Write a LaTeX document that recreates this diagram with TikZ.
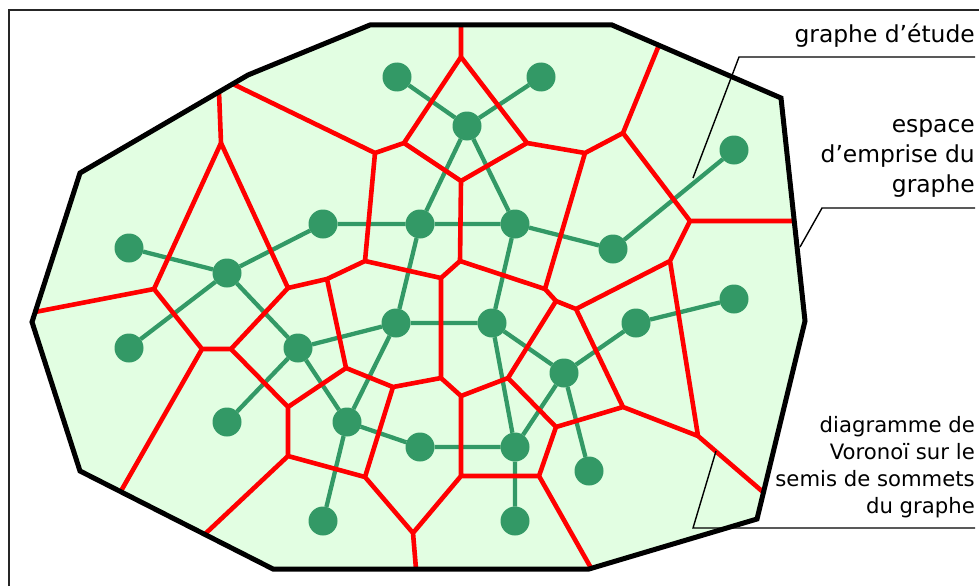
\documentclass[tikz,border=0pt]{standalone}
\usepackage{fontspec}
\setmainfont{DejaVu Sans}
\definecolor{hullfill}{RGB}{226,254,226}
\definecolor{vgreen}{RGB}{51,153,102}
\definecolor{vred}{RGB}{255,0,0}
\tikzset{
  gnode/.style={circle,fill=vgreen,minimum size=29pt,inner sep=0pt,outer sep=0pt},
  gedge/.style={draw=vgreen,line width=4.3pt},
  redge/.style={draw=vred,line width=4.6pt,line join=miter,line cap=butt},
  hullline/.style={draw=black,line width=5pt,line join=miter},
  callout/.style={draw=black,line width=1.4pt},
  framel/.style={draw=black!85,line width=2.2pt},
  bigtxt/.style={inner sep=0pt,align=right,font=\fontsize{23.4}{30}\selectfont},
  smalltxt/.style={inner sep=0pt,align=right,font=\fontsize{21.2}{26.7}\selectfont},
}
\begin{document}
\begin{tikzpicture}[x=1pt,y=-1pt]
\useasboundingbox (0,0) rectangle (979,586);
% frame
\draw[framel] (9,586) -- (9,10) -- (979,10);
% hull
\coordinate (H1) at (370,25);
\coordinate (H2) at (612,25);
\coordinate (H3) at (781,98);
\coordinate (H4) at (805,321);
\coordinate (H5) at (757,519);
\coordinate (H6) at (589,569);
\coordinate (H7) at (273,569);
\coordinate (H8) at (80,471);
\coordinate (H9) at (32,322);
\coordinate (H10) at (80,173);
\coordinate (H11) at (248,75);
\fill[hullfill] (H1)--(H2)--(H3)--(H4)--(H5)--(H6)--(H7)--(H8)--(H9)--(H10)--(H11)--cycle;
% green graph nodes
\node[gnode] (a1) at (397,77) {};
\node[gnode] (a2) at (541,77) {};
\node[gnode] (a3) at (467,126) {};
\node[gnode] (a4) at (734,150) {};
\node[gnode] (b1) at (323,224) {};
\node[gnode] (b2) at (420,224) {};
\node[gnode] (b3) at (515,224) {};
\node[gnode] (b4) at (613,249) {};
\node[gnode] (c1) at (129,248) {};
\node[gnode] (c2) at (227,273) {};
\node[gnode] (c3) at (129,348) {};
\node[gnode] (d1) at (396,323) {};
\node[gnode] (d2) at (492,323) {};
\node[gnode] (d3) at (636,323) {};
\node[gnode] (d4) at (734,299) {};
\node[gnode] (e1) at (298,348) {};
\node[gnode] (e2) at (564,373) {};
\node[gnode] (f1) at (227,422) {};
\node[gnode] (f2) at (347,422) {};
\node[gnode] (f3) at (420,447) {};
\node[gnode] (f4) at (515,447) {};
\node[gnode] (g1) at (589,471) {};
\node[gnode] (h1) at (323,521) {};
\node[gnode] (h2) at (515,521) {};
% green edges
\path[gedge] (a1)--(a3) (a2)--(a3) (a3)--(b2) (a3)--(b3)
  (b1)--(b2) (b2)--(b3) (b3)--(b4) (b4)--(a4)
  (b1)--(c2) (c1)--(c2) (c3)--(c2) (c2)--(e1)
  (b2)--(d1) (b3)--(d2) (d1)--(d2) (d1)--(e1) (d1)--(f2)
  (d2)--(e2) (d2)--(f4) (e2)--(d3) (d3)--(d4) (e2)--(f4) (e2)--(g1)
  (e1)--(f1) (e1)--(f2) (f2)--(f3) (f3)--(f4) (f2)--(h1) (f4)--(h2);
% Voronoi vertices
\coordinate (R1) at (461,57);
\coordinate (R2) at (404,143);
\coordinate (R3) at (375,153);
\coordinate (R4) at (461,181);
\coordinate (R5) at (527,143);
\coordinate (R6) at (585,153);
\coordinate (R7) at (623,133);
\coordinate (R8) at (690,221);
\coordinate (R9) at (670,261);
\coordinate (R10) at (545,289);
\coordinate (R11) at (556,301);
\coordinate (R12) at (576,309);
\coordinate (R13) at (460,261);
\coordinate (R14) at (441,278);
\coordinate (R15) at (365,261);
\coordinate (R16) at (327,279);
\coordinate (R17) at (288,288);
\coordinate (R18) at (221,143);
\coordinate (R19) at (154,289);
\coordinate (R20) at (202,349);
\coordinate (R21) at (231,349);
\coordinate (R22) at (288,407);
\coordinate (R23) at (346,368);
\coordinate (R24) at (288,456);
\coordinate (R25) at (365,477);
\coordinate (R26) at (393,387);
\coordinate (R27) at (441,378);
\coordinate (R28) at (461,396);
\coordinate (R29) at (508,378);
\coordinate (R30) at (461,476);
\coordinate (R31) at (539,476);
\coordinate (R32) at (556,427);
\coordinate (R33) at (623,407);
\coordinate (R34) at (698,436);
\coordinate (R35) at (413,533);
% Voronoi boundary ends
\coordinate (B1) at (461,25);
\coordinate (B2) at (233,84);
\coordinate (B3) at (219,92);
\coordinate (B4) at (35,312);
\coordinate (B5) at (121,491);
\coordinate (B6) at (205,534);
\coordinate (B7) at (416,569);
\coordinate (B8) at (591,568);
\coordinate (B9) at (763,492);
\coordinate (B10) at (794,221);
\coordinate (B11) at (659,45);
\path[redge] (B1)--(R1)--(R2)--(R3)--(B2)
  (R1)--(R5)--(R4)--(R2)
  (R4)--(R13)--(R14)--(R15)--(R3)
  (B3)--(R18)--(R19)--(B4)
  (R18)--(R17)--(R16)--(R15)
  (R19)--(R20)--(R21)--(R17)
  (R20)--(B5)
  (R21)--(R22)--(R23)--(R16)
  (R22)--(R24)--(B6)
  (R24)--(R25)--(R35)--(B7)
  (R23)--(R26)--(R27)--(R14)
  (R26)--(R25)
  (R27)--(R28)--(R30)--(R35)
  (R28)--(R29)--(R11)--(R10)--(R13)
  (R30)--(R31)--(B8)
  (R31)--(R32)--(R29)
  (R32)--(R33)--(R12)--(R11)
  (R10)--(R6)--(R5)
  (R6)--(R7)--(B11)
  (R7)--(R8)--(B10)
  (R8)--(R9)--(R12)
  (R9)--(R34)--(R33)
  (R34)--(B9);
% hull outline
\draw[hullline] (H1)--(H2)--(H3)--(H4)--(H5)--(H6)--(H7)--(H8)--(H9)--(H10)--(H11)--cycle;
% labels (base anchor = baseline of the last line)
\node[bigtxt,anchor=base east] (t1) at (975,42) {graphe d’étude};
\node[bigtxt,anchor=base east] (t2) at (975,192) {espace\\d’emprise du\\graphe};
\node[smalltxt,anchor=base east] (t3) at (975,513) {diagramme de\\Voronoï sur le\\semis de sommets\\du graphe};
% callouts
\coordinate (k1a) at (975,57);
\coordinate (k1b) at (739,57);
\coordinate (k1c) at (693,178);
\coordinate (k2a) at (975,208);
\coordinate (k2b) at (822,208);
\coordinate (k2c) at (800,247);
\coordinate (k3a) at (975,528);
\coordinate (k3b) at (693,528);
\coordinate (k3c) at (716,451);
\draw[callout] (k1a)--(k1b)--(k1c);
\draw[callout] (k2a)--(k2b)--(k2c);
\draw[callout] (k3a)--(k3b)--(k3c);
\end{tikzpicture}
\end{document}
